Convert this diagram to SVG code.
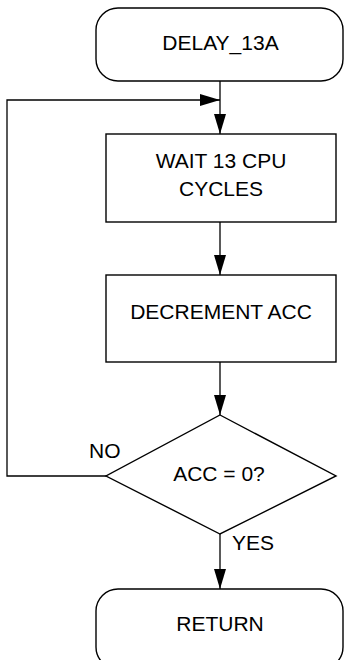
<svg xmlns="http://www.w3.org/2000/svg" width="344" height="660" viewBox="0 0 344 660">
<style>
.s{fill:#fff;stroke:#000;stroke-width:1.4}
.c{fill:none;stroke:#000;stroke-width:1.3}
.t{font-family:"Liberation Sans",Arial,sans-serif;font-size:21px;fill:#000;text-anchor:middle}
.l{font-family:"Liberation Sans",Arial,sans-serif;font-size:21px;fill:#000}
</style>
<defs>
<marker id="ah" viewBox="0 0 20 12" refX="20" refY="6" markerWidth="20" markerHeight="12" markerUnits="userSpaceOnUse" orient="auto">
<path d="M0,0 L20,6 L0,12 Z" fill="#000"/>
</marker>
</defs>
<rect width="344" height="660" fill="#fff"/>
<g id="connectors">
<line class="c" x1="220" y1="81" x2="220" y2="134" marker-end="url(#ah)"/>
<polyline class="c" points="106,476 7,476 7,100 220,100" marker-end="url(#ah)"/>
<line class="c" x1="220" y1="222" x2="220" y2="275" marker-end="url(#ah)"/>
<line class="c" x1="220" y1="362" x2="220" y2="415" marker-end="url(#ah)"/>
<line class="c" x1="220" y1="534" x2="220" y2="589" marker-end="url(#ah)"/>
<text class="l" x="89" y="458">NO</text>
<text class="l" x="232" y="550">YES</text>
</g>
<g id="start">
<rect class="s" x="96" y="8" width="247" height="73" rx="22" ry="22"/>
<text class="t" x="220.5" y="50">DELAY_13A</text>
</g>
<g id="wait">
<rect class="s" x="106" y="134" width="230" height="88"/>
<text class="t" x="221" y="168">WAIT 13 CPU</text>
<text class="t" x="221" y="196">CYCLES</text>
</g>
<g id="decrement">
<rect class="s" x="106" y="275" width="230" height="87"/>
<text class="t" x="221" y="319">DECREMENT ACC</text>
</g>
<g id="decision">
<polygon class="s" points="220,415 336,476 220,534 106,476"/>
<text class="t" x="219" y="481">ACC = 0?</text>
</g>
<g id="return">
<rect class="s" x="96" y="589" width="247" height="80" rx="22" ry="22"/>
<text class="t" x="220" y="631">RETURN</text>
</g>
</svg>
